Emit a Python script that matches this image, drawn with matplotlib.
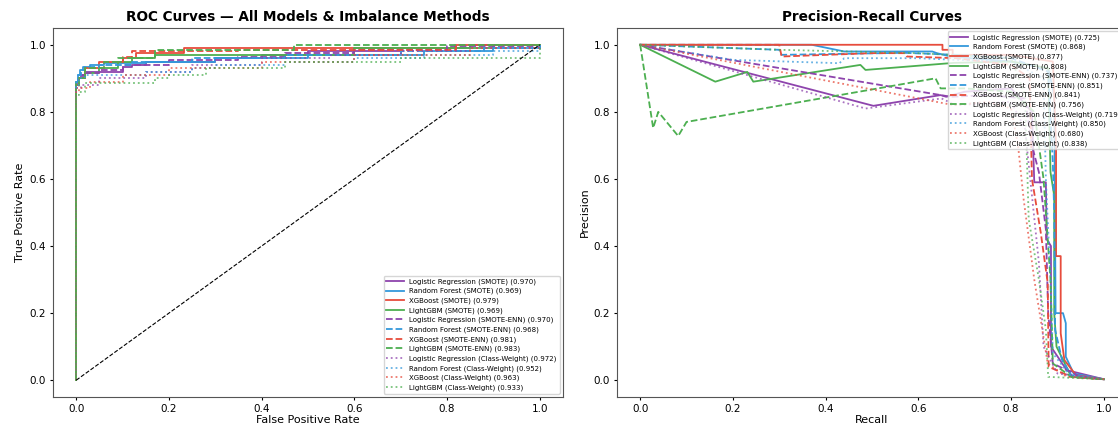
import matplotlib
matplotlib.use('Agg')
import matplotlib.pyplot as plt

# model / method combos, same order as the legend
models = ["Logistic Regression", "Random Forest", "XGBoost", "LightGBM"]
methods = ["SMOTE", "SMOTE-ENN", "Class-Weight"]
colors = ["#8e44ad", "#3498db", "#e74c3c", "#4caf50"]
styles = {"SMOTE": "-", "SMOTE-ENN": "--", "Class-Weight": ":"}

roc_auc = {
    "SMOTE": [0.970, 0.969, 0.979, 0.969],
    "SMOTE-ENN": [0.970, 0.968, 0.981, 0.983],
    "Class-Weight": [0.972, 0.952, 0.963, 0.933],
}
pr_ap = {
    "SMOTE": [0.725, 0.868, 0.877, 0.808],
    "SMOTE-ENN": [0.737, 0.851, 0.841, 0.756],
    "Class-Weight": [0.719, 0.850, 0.680, 0.838],
}

# ROC step points (fpr, tpr)
roc_fpr = {
    ("SMOTE", 0): [0, 0, 0.004, 0.01, 0.02, 0.1, 0.12, 0.15, 0.3, 0.4, 0.5, 0.7, 0.85, 1.0],
    ("SMOTE", 1): [0, 0, 0.003, 0.008, 0.015, 0.03, 0.06, 0.15, 0.3, 0.5, 0.75, 0.9, 1.0],
    ("SMOTE", 2): [0, 0, 0.005, 0.02, 0.05, 0.1, 0.128, 0.232, 0.816, 1.0],
    ("SMOTE", 3): [0, 0, 0.005, 0.02, 0.05, 0.09, 0.12, 0.17, 0.6, 0.9, 1.0],
    ("SMOTE-ENN", 0): [0, 0, 0.005, 0.015, 0.05, 0.1, 0.2, 0.35, 0.45, 0.6, 0.8, 1.0],
    ("SMOTE-ENN", 1): [0, 0, 0.004, 0.01, 0.02, 0.05, 0.12, 0.25, 0.45, 0.7, 0.88, 1.0],
    ("SMOTE-ENN", 2): [0, 0, 0.005, 0.02, 0.06, 0.1, 0.12, 0.35, 0.82, 1.0],
    ("SMOTE-ENN", 3): [0, 0, 0.005, 0.02, 0.06, 0.09, 0.17, 0.47, 1.0],
    ("Class-Weight", 0): [0, 0, 0.01, 0.05, 0.15, 0.25, 0.4, 0.55, 0.7, 0.85, 1.0],
    ("Class-Weight", 1): [0, 0, 0.005, 0.02, 0.15, 0.25, 0.3, 0.45, 0.6, 0.75, 0.9, 1.0],
    ("Class-Weight", 2): [0, 0, 0.005, 0.03, 0.1, 0.2, 0.4, 0.6, 0.85, 1.0],
    ("Class-Weight", 3): [0, 0, 0.005, 0.02, 0.17, 0.2, 0.28, 0.45, 0.7, 1.0],
}
roc_tpr = {
    ("SMOTE", 0): [0, 0.88, 0.9, 0.91, 0.92, 0.935, 0.94, 0.95, 0.96, 0.97, 0.98, 0.99, 1.0, 1.0],
    ("SMOTE", 1): [0, 0.89, 0.91, 0.925, 0.935, 0.94, 0.945, 0.95, 0.96, 0.97, 0.98, 0.99, 1.0],
    ("SMOTE", 2): [0, 0.88, 0.9, 0.93, 0.95, 0.96, 0.975, 0.99, 1.0, 1.0],
    ("SMOTE", 3): [0, 0.89, 0.9, 0.915, 0.93, 0.95, 0.96, 0.97, 0.99, 1.0, 1.0],
    ("SMOTE-ENN", 0): [0, 0.88, 0.9, 0.915, 0.925, 0.94, 0.955, 0.965, 0.975, 0.985, 0.995, 1.0],
    ("SMOTE-ENN", 1): [0, 0.89, 0.91, 0.925, 0.935, 0.94, 0.95, 0.96, 0.97, 0.98, 0.99, 1.0],
    ("SMOTE-ENN", 2): [0, 0.87, 0.9, 0.93, 0.95, 0.965, 0.98, 0.985, 1.0, 1.0],
    ("SMOTE-ENN", 3): [0, 0.88, 0.9, 0.93, 0.95, 0.96, 0.985, 1.0, 1.0],
    ("Class-Weight", 0): [0, 0.87, 0.88, 0.9, 0.92, 0.94, 0.96, 0.97, 0.98, 0.99, 1.0],
    ("Class-Weight", 1): [0, 0.88, 0.9, 0.91, 0.92, 0.93, 0.94, 0.95, 0.96, 0.97, 0.98, 1.0],
    ("Class-Weight", 2): [0, 0.86, 0.87, 0.89, 0.91, 0.93, 0.95, 0.97, 0.99, 1.0],
    ("Class-Weight", 3): [0, 0.85, 0.86, 0.885, 0.9, 0.91, 0.93, 0.95, 0.96, 1.0],
}

# precision-recall points (recall, precision)
pr_recall = {
    ("SMOTE", 0): [0, 0.503, 0.648, 0.66, 0.70, 0.80, 0.845, 0.85, 0.875, 0.877, 0.886, 0.886, 0.92, 1.0],
    ("SMOTE", 1): [0, 0.37, 0.44, 0.63, 0.64, 0.67, 0.80, 0.88, 0.893, 0.896, 0.912, 0.918, 0.918, 0.935, 1.0],
    ("SMOTE", 2): [0, 0.652, 0.652, 0.674, 0.674, 0.80, 0.89, 0.897, 0.897, 0.907, 0.907, 0.915, 0.94, 1.0],
    ("SMOTE", 3): [0, 0.162, 0.231, 0.244, 0.475, 0.486, 0.676, 0.80, 0.88, 0.885, 0.893, 0.893, 0.898, 0.93, 1.0],
    ("SMOTE-ENN", 0): [0, 0.67, 0.75, 0.83, 0.845, 0.86, 0.875, 0.88, 0.89, 0.95, 1.0],
    ("SMOTE-ENN", 1): [0, 0.30, 0.305, 0.57, 0.68, 0.80, 0.88, 0.89, 0.893, 0.895, 0.91, 0.93, 1.0],
    ("SMOTE-ENN", 2): [0, 0.30, 0.305, 0.50, 0.57, 0.575, 0.68, 0.80, 0.84, 0.845, 0.864, 0.879, 0.881, 0.93, 1.0],
    ("SMOTE-ENN", 3): [0, 0.028, 0.039, 0.082, 0.10, 0.637, 0.648, 0.70, 0.80, 0.85, 0.87, 0.885, 0.89, 0.93, 1.0],
    ("Class-Weight", 0): [0, 0.486, 0.65, 0.68, 0.80, 0.83, 0.845, 0.86, 0.87, 0.90, 1.0],
    ("Class-Weight", 1): [0, 0.2, 0.43, 0.44, 0.6, 0.68, 0.8, 0.87, 0.875, 0.885, 0.89, 0.93, 1.0],
    ("Class-Weight", 2): [0, 0.676, 0.75, 0.80, 0.815, 0.827, 0.85, 0.879, 0.92, 1.0],
    ("Class-Weight", 3): [0, 0.3, 0.6, 0.8, 0.83, 0.838, 0.86, 0.875, 0.88, 1.0],
}
pr_precision = {
    ("SMOTE", 0): [1.0, 0.818, 0.85, 0.845, 0.86, 0.87, 0.80, 0.59, 0.59, 0.42, 0.40, 0.10, 0.03, 0.003],
    ("SMOTE", 1): [1.0, 1.0, 0.98, 0.98, 0.975, 0.965, 0.95, 0.93, 0.85, 0.2, 0.2, 0.17, 0.07, 0.02, 0.003],
    ("SMOTE", 2): [1.0, 1.0, 0.985, 0.985, 0.97, 0.97, 0.95, 0.7, 0.37, 0.37, 0.14, 0.06, 0.015, 0.003],
    ("SMOTE", 3): [1.0, 0.89, 0.919, 0.89, 0.94, 0.925, 0.946, 0.95, 0.93, 0.62, 0.55, 0.2, 0.1, 0.01, 0.003],
    ("SMOTE-ENN", 0): [1.0, 0.845, 0.85, 0.84, 0.70, 0.62, 0.45, 0.2, 0.05, 0.01, 0.003],
    ("SMOTE-ENN", 1): [1.0, 0.985, 0.97, 0.976, 0.97, 0.96, 0.92, 0.65, 0.5, 0.15, 0.06, 0.015, 0.003],
    ("SMOTE-ENN", 2): [1.0, 1.0, 0.965, 0.975, 0.975, 0.965, 0.96, 0.94, 0.9, 0.6, 0.44, 0.29, 0.04, 0.01, 0.003],
    ("SMOTE-ENN", 3): [1.0, 0.752, 0.80, 0.728, 0.77, 0.90, 0.87, 0.87, 0.86, 0.8, 0.6, 0.3, 0.05, 0.01, 0.003],
    ("Class-Weight", 0): [1.0, 0.81, 0.84, 0.82, 0.83, 0.75, 0.55, 0.35, 0.1, 0.02, 0.003],
    ("Class-Weight", 1): [1.0, 0.955, 0.945, 0.96, 0.96, 0.955, 0.95, 0.9, 0.6, 0.3, 0.08, 0.01, 0.003],
    ("Class-Weight", 2): [1.0, 0.82, 0.83, 0.81, 0.7, 0.54, 0.3, 0.05, 0.01, 0.003],
    ("Class-Weight", 3): [1.0, 0.985, 0.975, 0.96, 0.85, 0.48, 0.3, 0.15, 0.01, 0.003],
}

fig = plt.figure(figsize=(11.18, 4.28), dpi=100)
ax1 = fig.add_axes([53 / 1118, 1 - 397 / 428, 510 / 1118, 369 / 428])
ax2 = fig.add_axes([617 / 1118, 1 - 397 / 428, 510 / 1118, 369 / 428])

for meth in methods:
    for i, m in enumerate(models):
        key = (meth, i)
        alpha = 0.75 if meth == "Class-Weight" else 1.0
        ax1.step(roc_fpr[key], roc_tpr[key], where='post', color=colors[i],
                 ls=styles[meth], lw=1.3, alpha=alpha,
                 label=f"{m} ({meth}) ({roc_auc[meth][i]:.3f})")
        ax2.plot(pr_recall[key], pr_precision[key], color=colors[i],
                 ls=styles[meth], lw=1.3, alpha=alpha,
                 label=f"{m} ({meth}) ({pr_ap[meth][i]:.3f})")

ax1.plot([0, 1], [0, 1], 'k--', lw=0.8)

ax1.set_title("ROC Curves — All Models & Imbalance Methods", fontsize=9.8, fontweight='bold', pad=5)
ax1.set_xlabel("False Positive Rate", fontsize=8, labelpad=1)
ax1.set_ylabel("True Positive Rate", fontsize=8, labelpad=3)
ax1.legend(loc='lower right', fontsize=5, labelspacing=0.45, handlelength=2.5)

ax2.set_title("Precision-Recall Curves", fontsize=9.8, fontweight='bold', pad=5)
ax2.set_xlabel("Recall", fontsize=8, labelpad=1)
ax2.set_ylabel("Precision", fontsize=8, labelpad=3)
ax2.legend(loc='upper right', fontsize=5, labelspacing=0.45, handlelength=2.5)

for ax in (ax1, ax2):
    ax.set_xlim(-0.05, 1.05)
    ax.set_ylim(-0.05, 1.05)
    ax.tick_params(labelsize=7.5, length=2.5, pad=2.5)
    for s in ax.spines.values():
        s.set_color('#555555')

fig.savefig("out.png", dpi=100)
